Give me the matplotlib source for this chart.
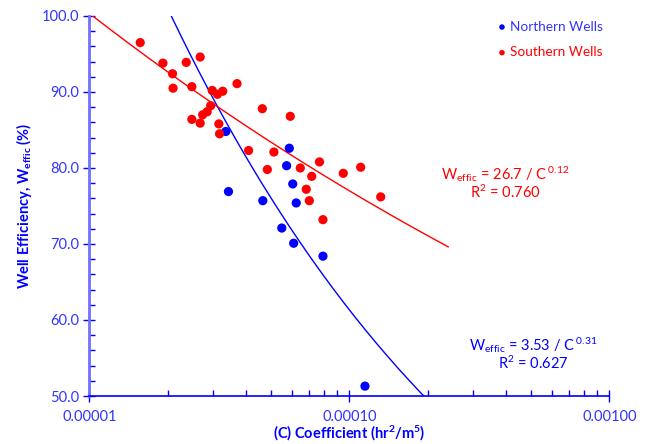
import numpy as np
import matplotlib
matplotlib.use('Agg')
import matplotlib.pyplot as plt
from matplotlib.ticker import LogLocator, MultipleLocator, FormatStrFormatter, FuncFormatter, NullFormatter

# Northern wells (C coefficient, efficiency %)
north_c = [3.35e-5, 3.43e-5, 4.65e-5, 5.88e-5, 5.74e-5, 6.06e-5, 6.25e-5,
           5.50e-5, 6.11e-5, 7.92e-5, 1.149e-4]
north_w = [84.8, 76.9, 75.7, 82.6, 80.3, 77.9, 75.4, 72.1, 70.1, 68.4, 51.3]

# Southern wells
south_c = [1.57e-5, 1.92e-5, 2.09e-5, 2.10e-5, 2.36e-5, 2.67e-5, 2.48e-5, 2.48e-5,
           2.67e-5, 2.73e-5, 2.84e-5, 2.93e-5, 2.97e-5, 3.11e-5, 3.26e-5, 3.15e-5,
           3.17e-5, 3.70e-5, 4.10e-5, 4.63e-5, 4.84e-5, 5.13e-5, 5.93e-5, 6.48e-5,
           7.17e-5, 7.68e-5, 6.83e-5, 7.02e-5, 7.92e-5, 9.48e-5, 1.106e-4, 1.321e-4]
south_w = [96.5, 93.8, 92.4, 90.5, 93.9, 94.6, 90.7, 86.4,
           85.9, 87.0, 87.4, 88.2, 90.2, 89.7, 90.1, 85.8,
           84.5, 91.1, 82.3, 87.8, 79.8, 82.1, 86.8, 80.0,
           78.9, 80.8, 77.2, 75.7, 73.2, 79.3, 80.1, 76.2]

# power-law trendlines W = a / C^b
north_fit = (3.53, 0.31)
south_fit = (26.7, 0.115)
fit_range = (1e-5, 2.4e-4)

BLUE = '#0000FF'
RED = '#FF0000'
TXT_BLUE = '#3333FF'

plt.rcParams['font.family'] = ['Lato', 'DejaVu Sans']
plt.rcParams['mathtext.fontset'] = 'custom'
plt.rcParams['mathtext.rm'] = 'Lato'
plt.rcParams['mathtext.bf'] = 'Lato:bold'
plt.rcParams['mathtext.it'] = 'Lato:italic'

fig = plt.figure(figsize=(6.46, 4.44), dpi=100)
ax = fig.add_axes([0.1382, 0.1081, 0.805, 0.8559])

ax.scatter(north_c, north_w, s=44, color=BLUE, zorder=3, label='Northern Wells', edgecolors='none')
ax.scatter(south_c, south_w, s=44, color=RED, zorder=3, label='Southern Wells', edgecolors='none')

xx = np.logspace(np.log10(fit_range[0]), np.log10(fit_range[1]), 200)
ax.plot(xx, north_fit[0] / xx ** north_fit[1], color=BLUE, lw=1.0, zorder=2)
ax.plot(xx, south_fit[0] / xx ** south_fit[1], color=RED, lw=1.0, zorder=2)

ax.set_xscale('log')
ax.set_xlim(1e-5, 1e-3)
ax.set_ylim(50, 100)

ax.xaxis.set_major_locator(LogLocator(base=10, numticks=5))
ax.xaxis.set_minor_locator(LogLocator(base=10, subs=np.arange(2, 10), numticks=10))
ax.xaxis.set_major_formatter(FuncFormatter(lambda v, p: f'{v:.5f}'))
ax.xaxis.set_minor_formatter(NullFormatter())
ax.yaxis.set_major_locator(MultipleLocator(10))
ax.yaxis.set_minor_locator(MultipleLocator(2))
ax.yaxis.set_major_formatter(FormatStrFormatter('%.1f'))

for s in ['top', 'right']:
    ax.spines[s].set_visible(False)
ax.spines['bottom'].set_color(BLUE)
ax.spines['bottom'].set_linewidth(1.2)
ax.spines['left'].set_color('#7070FF')
ax.spines['left'].set_linewidth(2.0)

ax.tick_params(which='major', direction='inout', length=8, width=1, color=BLUE,
               labelcolor=TXT_BLUE, labelsize=10.5)
ax.tick_params(which='minor', direction='in', length=4, width=1, color=BLUE)
ax.tick_params(axis='x', which='major', pad=6)

ax.set_xlabel(r'(C) Coefficient (hr$^{\mathbf{2}}$/m$^{\mathbf{5}}$)', color=BLUE,
              fontsize=10.5, fontweight='bold', labelpad=0)
ax.set_ylabel(r'Well Efficiency, W$_{\mathbf{effic}}$ (%)', color=BLUE,
              fontsize=10.5, fontweight='bold', labelpad=5)

leg = ax.legend(loc='upper left', bbox_to_anchor=(0.757, 1.02), frameon=False,
                handletextpad=0.1, handlelength=1.0, labelspacing=1.0,
                markerscale=0.6, fontsize=9.8, labelcolor=[TXT_BLUE, RED])

ax.text(0.80, 0.585, r'W$_{\mathrm{effic}}$ = 26.7 / C$^{\;\mathrm{0.12}}$', transform=ax.transAxes,
        color=RED, fontsize=10.5, ha='center', va='center')
ax.text(0.80, 0.535, r'R$^{\mathrm{2}}$ = 0.760', transform=ax.transAxes,
        color=RED, fontsize=10.5, ha='center', va='center')
ax.text(0.853, 0.135, r'W$_{\mathrm{effic}}$ = 3.53 / C$^{\;\mathrm{0.31}}$', transform=ax.transAxes,
        color=BLUE, fontsize=10.5, ha='center', va='center')
ax.text(0.853, 0.085, r'R$^{\mathrm{2}}$ = 0.627', transform=ax.transAxes,
        color=BLUE, fontsize=10.5, ha='center', va='center')

plt.savefig('out.png', dpi=100)
